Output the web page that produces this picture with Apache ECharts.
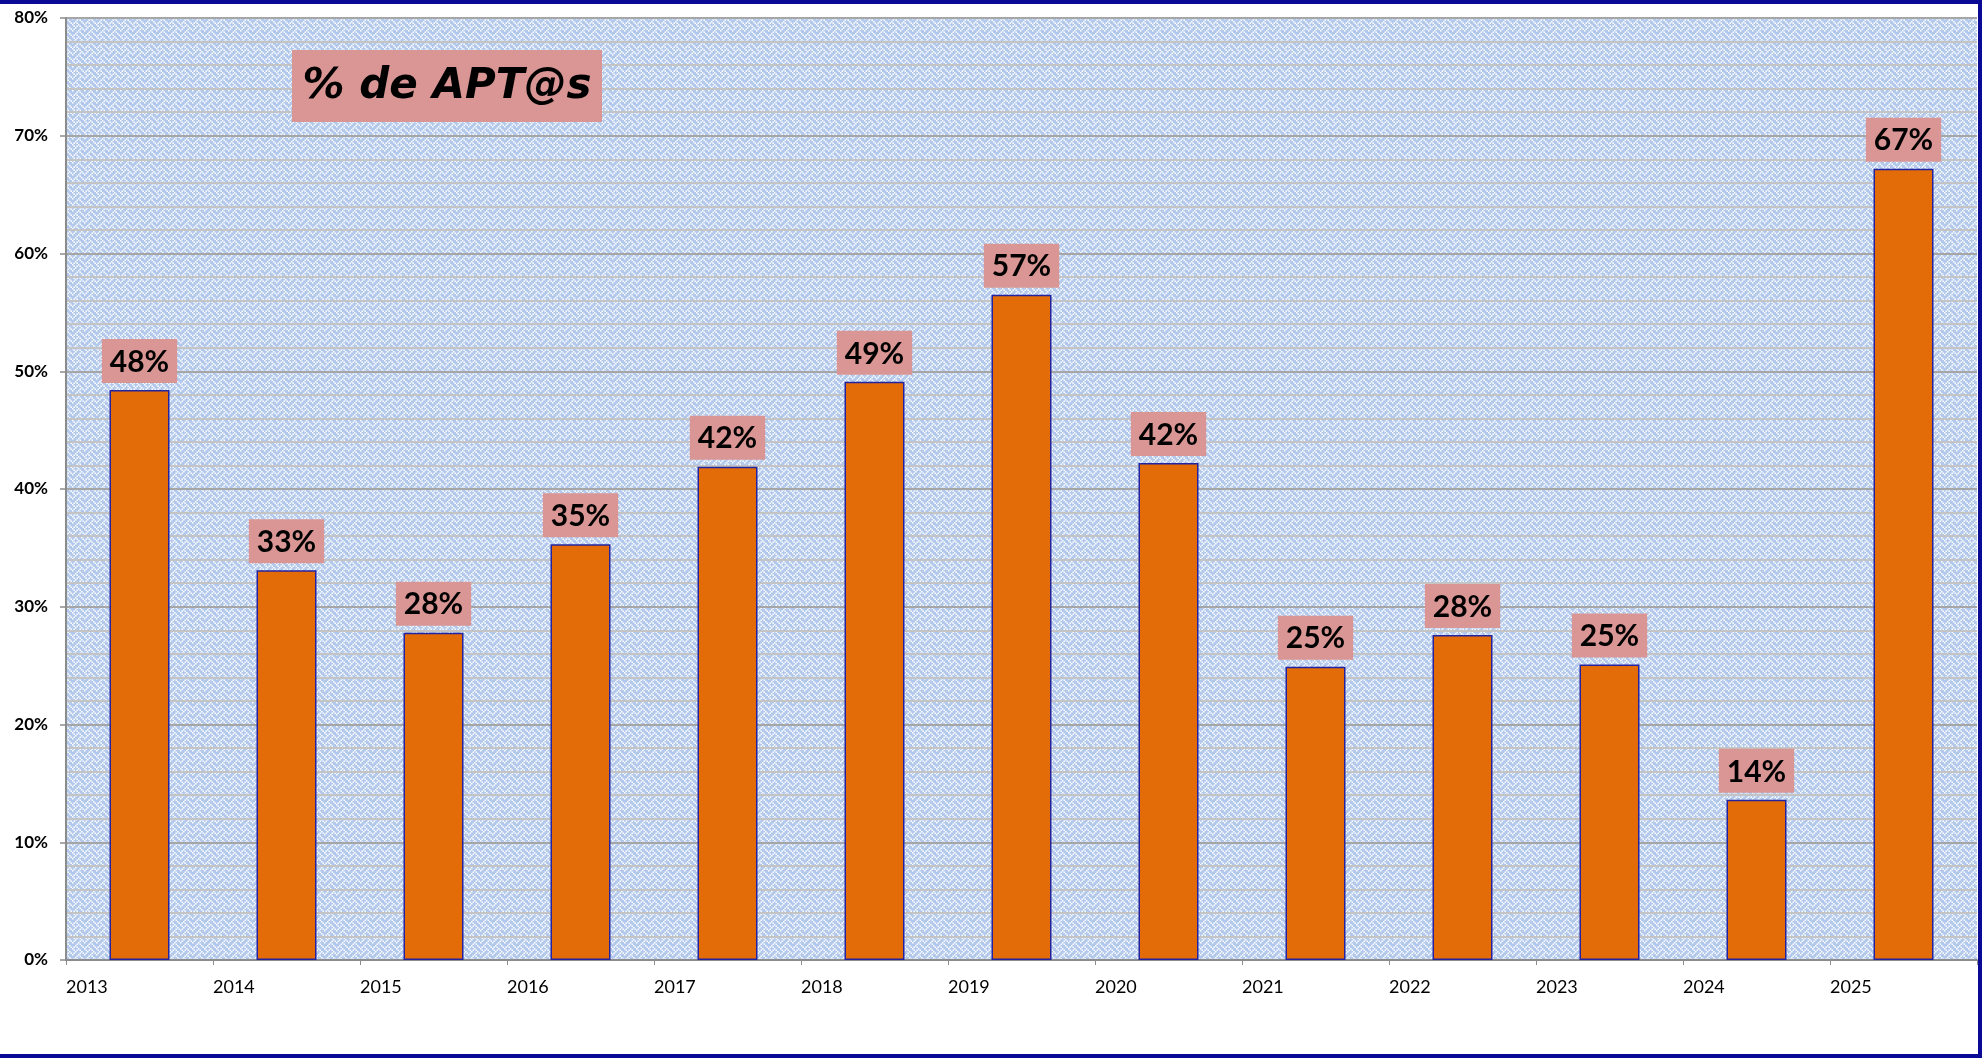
<!DOCTYPE html>
<html>
	<head>
		<meta charset="utf-8">
		<title>% de APT@s</title>
		<script src="https://cdn.jsdelivr.net/npm/echarts@6/dist/echarts.min.js"></script>
		<style>
			body { margin: 0; background: #fff; }
		</style>
	</head>
	<body>
		<div id="main" style="width: 1982px;height:1058px;"></div>
	</body>
	<script type="text/javascript">

        // datos
        var years = [2013, 2014, 2015, 2016, 2017, 2018, 2019, 2020, 2021, 2022, 2023, 2024, 2025];
        var aptos = [48.4, 33.1, 27.8, 35.3, 41.9, 49.1, 56.5, 42.2, 24.9, 27.6, 25.1, 13.6, 67.2];
        var yTicks = [0, 10, 20, 30, 40, 50, 60, 70, 80];

        // las barras van entre dos marcas del eje x
        var barData = [];
        for (var i = 0; i < aptos.length; i++) {
            barData.push([i + 0.5, aptos[i]]);
        }

        // trama tipo "weave" de Excel para el fondo
        var weave = [0x88, 0x54, 0x22, 0x45, 0x88, 0x14, 0x22, 0x51];
        var tile = document.createElement('canvas');
        var px = 1.5;
        tile.width = 12;
        tile.height = 12;
        var ctx = tile.getContext('2d');
        ctx.fillStyle = '#b2c9ec';
        ctx.fillRect(0, 0, 12, 12);
        ctx.fillStyle = '#ffffff';
        for (var r = 0; r < 8; r++) {
            for (var c = 0; c < 8; c++) {
                if (weave[r] & (0x80 >> c)) {
                    ctx.fillRect(c * px, r * px, px, px);
                }
            }
        }

        var myChart = echarts.init(document.getElementById('main'));

        var option = {
            backgroundColor: '#ffffff',
            animation: false,
            grid: {
                left: 66,
                right: 5,
                top: 18,
                bottom: 98,
                show: true,
                borderWidth: 0,
                backgroundColor: { image: tile, repeat: 'repeat' }
            },
            xAxis: {
                type: 'value',
                min: 0,
                max: years.length,
                interval: 1,
                axisLine: { show: true, lineStyle: { color: '#8c8c8c', width: 2 } },
                axisTick: { show: true, length: 5, lineStyle: { color: '#8c8c8c', width: 1 } },
                splitLine: { show: false },
                axisLabel: {
                    margin: 18,
                    align: 'left',
                    color: '#000',
                    fontFamily: 'Lato',
                    fontSize: 18,
                    formatter: function (v) {
                        return v < years.length ? String(years[v]) : '';
                    }
                }
            },
            yAxis: {
                type: 'value',
                min: yTicks[0],
                max: yTicks[yTicks.length - 1],
                interval: 10,
                axisLine: { show: true, lineStyle: { color: '#8c8c8c', width: 2 } },
                axisTick: { show: true, length: 6, lineStyle: { color: '#8c8c8c', width: 1.5 } },
                axisLabel: {
                    margin: 18,
                    color: '#000',
                    fontFamily: 'Lato',
                    fontWeight: 'bold',
                    fontSize: 17,
                    formatter: '{value}%'
                },
                splitLine: { show: true, lineStyle: { color: '#a6a6a6', width: 2 } },
                minorTick: { show: false, splitNumber: 5 },
                minorSplitLine: { show: true, lineStyle: { color: '#c4c4c4', width: 2 } }
            },
            graphic: [
                {
                    type: 'rect',
                    z: 100,
                    shape: { x: -10, y: 2, width: 1990, height: 1054 },
                    style: { fill: null, stroke: '#0a0a96', lineWidth: 4 }
                },
                {
                    type: 'rect',
                    z: 50,
                    shape: { x: 292, y: 50, width: 310, height: 72 },
                    style: { fill: '#d99694' }
                },
                {
                    type: 'text',
                    z: 51,
                    x: 447,
                    y: 87,
                    style: {
                        text: '% de APT@s',
                        fill: '#000',
                        font: 'italic bold 42px "DejaVu Sans"',
                        textAlign: 'center',
                        textVerticalAlign: 'middle'
                    }
                }
            ],
            series: [{
                name: '% de APT@s',
                type: 'bar',
                barWidth: 60,
                data: barData,
                itemStyle: {
                    color: '#e36c09',
                    borderColor: '#2323a0',
                    borderWidth: 1.5
                },
                label: {
                    show: true,
                    position: 'top',
                    distance: 7,
                    backgroundColor: '#d99694',
                    padding: [8, 8, 6, 8],
                    color: '#000',
                    fontFamily: 'Lato',
                    fontWeight: 'bold',
                    fontSize: 30,
                    formatter: function (p) {
                        return Math.round(p.value[1]) + '%';
                    }
                }
            }]
        };

        myChart.setOption(option);

	</script>
</html>
